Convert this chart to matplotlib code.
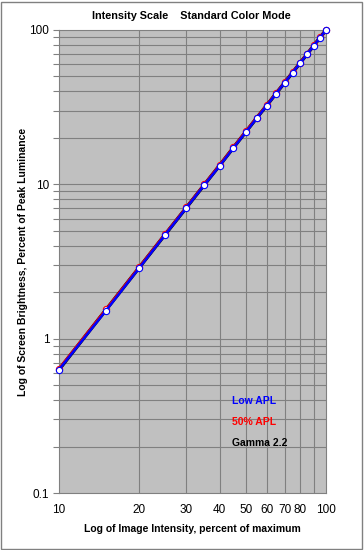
import matplotlib
matplotlib.use("Agg")
import matplotlib.pyplot as plt
from matplotlib.ticker import FixedLocator, NullFormatter, FixedFormatter
from matplotlib.patches import Rectangle

intensity = [10, 15, 20, 25, 30, 35, 40, 45, 50, 55, 60, 65, 70, 75, 80, 85, 90, 95, 100]
low_apl = [0.63, 1.52, 2.88, 4.72, 7.05, 9.9, 13.2, 17.2, 21.7, 26.8, 32.4, 38.7, 45.5, 53.0, 61.0, 69.8, 79.2, 89.2, 100]
apl_50 = [0.64, 1.55, 2.92, 4.78, 7.12, 10.0, 13.4, 17.4, 22.0, 27.1, 32.7, 39.0, 45.8, 53.3, 61.5, 70.2, 79.6, 89.5, 100]
gamma22 = [0.63, 1.54, 2.90, 4.74, 7.07, 9.93, 13.3, 17.3, 21.8, 26.9, 32.5, 38.8, 45.6, 53.1, 61.2, 69.9, 79.3, 89.3, 100]
xtick_vals = [10, 20, 30, 40, 50, 60, 70, 80, 100]
xtick_labels = ["10", "20", "30", "40", "50", "60", "70", "80", "100"]
ytick_vals = [0.1, 1, 10, 100]
ytick_labels = ["0.1", "1", "10", "100"]

plt.rcParams['font.family'] = ['Liberation Sans', 'DejaVu Sans']

fig = plt.figure(figsize=(3.64, 5.5), dpi=100)
ax = fig.add_axes([59/364, 1-493/550, (326-59)/364, (493-30)/550])
ax.set_facecolor('#C0C0C0')
ax.set_xscale('log')
ax.set_yscale('log')
ax.set_xlim(10, 100)
ax.set_ylim(0.1, 100)

ax.plot(intensity, gamma22, color='black', lw=2.5, zorder=3)
ax.plot(intensity, apl_50, color='red', lw=1.8, marker='o', ms=4.5, mfc='white', mec='red', mew=0.8, zorder=4, clip_on=False)
ax.plot(intensity, low_apl, color='#0000FF', lw=1.8, marker='o', ms=4.5, mfc='white', mec='#0000FF', mew=0.8, zorder=5, clip_on=False)

# grid
xgrid = [20, 30, 40, 50, 60, 70, 80, 90]
ax.xaxis.set_major_locator(FixedLocator(xtick_vals))
ax.xaxis.set_major_formatter(FixedFormatter(xtick_labels))
ax.xaxis.set_minor_locator(FixedLocator([90]))
ax.xaxis.set_minor_formatter(NullFormatter())
for xv in xgrid:
    ax.axvline(xv, color='#808080', lw=0.8, zorder=1)
yminor = [m * 10.0**e for e in (-1, 0, 1) for m in range(2, 10)]
ax.yaxis.set_major_locator(FixedLocator(ytick_vals))
ax.yaxis.set_major_formatter(FixedFormatter(ytick_labels))
ax.yaxis.set_minor_locator(FixedLocator(yminor))
ax.yaxis.set_minor_formatter(NullFormatter())
for yv in yminor + [1, 10]:
    ax.axhline(yv, color='#808080', lw=0.8, zorder=1)

ax.tick_params(axis='x', which='both', length=0, labelsize=8.5, pad=8)
ax.tick_params(axis='y', which='major', length=4, width=0.8, color='#808080', labelsize=8.5, pad=3, direction='out')
ax.tick_params(axis='y', which='minor', length=4, width=0.8, color='#808080', direction='out')
for s in ax.spines.values():
    s.set_color('#808080')
    s.set_linewidth(0.8)

ax.set_xlabel('Log of Image Intensity, percent of maximum', fontsize=7.5, fontweight='bold', labelpad=6)
ax.set_ylabel('Log of Screen Brightness, Percent of Peak Luminance', fontsize=7.5, fontweight='bold', labelpad=1)
fig.text(191/364, 1-16/550, 'Intensity Scale    Standard Color Mode', fontsize=7.8, fontweight='bold', ha='center', va='center')

ax.text(232/364, 1-401/550, 'Low APL', transform=fig.transFigure, color='#0000FF', fontsize=7.5, fontweight='bold', va='center')
ax.text(232/364, 1-422/550, '50% APL', transform=fig.transFigure, color='red', fontsize=7.5, fontweight='bold', va='center')
ax.text(232/364, 1-443/550, 'Gamma 2.2', transform=fig.transFigure, color='black', fontsize=7.5, fontweight='bold', va='center')

fig.patches.append(Rectangle((1/364, 1/550), 361/364, 547/550, transform=fig.transFigure,
                             fill=False, edgecolor='#808080', lw=1))

fig.savefig('out.png', dpi=100, facecolor='white')
